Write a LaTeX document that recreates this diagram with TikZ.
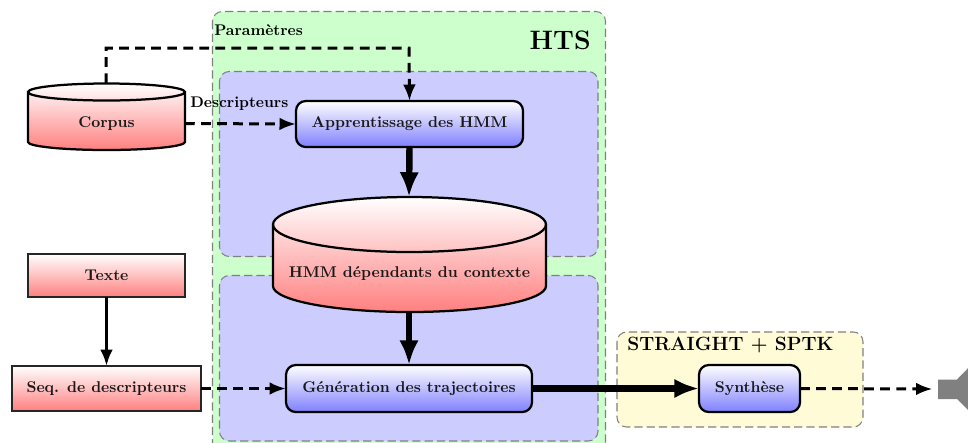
\documentclass[tikz,border=0pt]{standalone}
\usetikzlibrary{arrows.meta}
\definecolor{greenbg}{HTML}{CCFFCC}
\definecolor{bluebg}{HTML}{CCCCFF}
\definecolor{yellowbg}{HTML}{FFFBD6}
\def\ux{0.667pt}
\tikzset{
  panel/.style={draw=gray,line width=0.7pt,dash pattern=on 5.5pt off 2.7pt,rounded corners=6.5pt},
  redfill/.style={top color=white,bottom color=red!50},
  bluefill/.style={top color=white,bottom color=blue!50},
  nodetext/.style={font=\bfseries\fontsize{10.4}{12}\selectfont,text=black!90,inner sep=0pt,outer sep=0pt},
  redbox/.style={nodetext,draw=black!85,line width=1.5pt,redfill},
  bluebox/.style={nodetext,draw=black,line width=1.5pt,rounded corners=6.5pt,bluefill},
  ghost/.style={nodetext},
  cyl/.style={draw=black,line width=1.5pt},
  dashedarrow/.style={line width=2pt,dash pattern=on 6.5pt off 4.2pt,-{Latex[length=11pt,width=8.5pt]}},
  thinarrow/.style={line width=2pt,-{Latex[length=11pt,width=8.5pt]}},
  thickarrow/.style={line width=4.3pt,-{Latex[length=16.5pt,width=13pt]}},
  biglabel/.style={font=\bfseries\fontsize{12.8}{15}\selectfont,inner sep=0pt},
  hugelabel/.style={font=\bfseries\fontsize{17.8}{20}\selectfont,inner sep=0pt},
  smalllabel/.style={font=\bfseries\fontsize{10.3}{12}\selectfont,inner sep=0pt},
}
\begin{document}
\begin{tikzpicture}[x=\ux,y=-\ux]
\useasboundingbox (0,0) rectangle (968,442);
\clip (0,0) rectangle (968,442);
% panels
\path[panel,fill=greenbg] (212.5,11.5) rectangle (605.5,470);
\path[panel,fill=bluebg] (219.5,71.5) rectangle (598,256.5);
\path[panel,fill=bluebg] (219.5,275.5) rectangle (598,441);
\path[panel,fill=yellowbg] (617,332) rectangle (863,427);
% cylinders
\path[cyl,redfill] (28,92) -- (28,142) arc[start angle=180,end angle=0,x radius=78.5,y radius=8]
  -- (185,92) arc[start angle=0,end angle=-180,x radius=78.5,y radius=8.5] -- cycle;
\draw[cyl] (28,92) arc[start angle=180,end angle=0,x radius=78.5,y radius=8.5];
\path[cyl,redfill] (273,224.5) -- (273,286) arc[start angle=180,end angle=0,x radius=136.5,y radius=26]
  -- (546,224.5) arc[start angle=0,end angle=-180,x radius=136.5,y radius=27.5] -- cycle;
\draw[cyl] (273,224.5) arc[start angle=180,end angle=0,x radius=136.5,y radius=27.5];
% nodes
\node[ghost,minimum width=157*\ux,minimum height=48*\ux] (corpus) at (106.5,123.5) {Corpus};
\node[ghost,minimum width=273*\ux,minimum height=60*\ux] (hmm) at (409.5,274) {HMM dépendants du contexte};
\coordinate (corpustop) at (106,83);
\coordinate (hmmtop) at (409,197);
\coordinate (hmmbottom) at (409,312);
\node[bluebox,minimum width=227*\ux,minimum height=46*\ux] (appr) at (409.5,124) {Apprentissage des HMM};
\node[bluebox,minimum width=246*\ux,minimum height=47*\ux] (gen) at (409,388.5) {Génération des trajectoires};
\node[bluebox,minimum width=101*\ux,minimum height=47*\ux] (synth) at (749.5,388.5) {Synthèse};
\node[redbox,minimum width=157*\ux,minimum height=43*\ux] (texte) at (106.5,275.5) {Texte};
\node[redbox,minimum width=189*\ux,minimum height=45*\ux] (seq) at (106.5,388.5) {Seq. de descripteurs};
% labels
\node[hugelabel,anchor=east] (hts) at (591,40) {HTS};
\node[biglabel,anchor=west] (straight) at (627,345) {STRAIGHT + SPTK};
\node[smalllabel,anchor=west] (param) at (214,30) {Paramètres};
\node[smalllabel,anchor=west] (descr) at (190,104) {Descripteurs};
% speaker
\path[fill=gray] (938,379.5) -- (957,379.5) -- (975,361) -- (975,417) -- (957,399) -- (938,399) -- cycle;
\coordinate (speaker) at (932.5,389);
% connectors
\draw[dashedarrow] (corpustop) -- (106,48) -- (409,48) -- (appr.north);
\draw[dashedarrow] (corpus.east) -- (appr.west);
\draw[thickarrow] (appr.south) -- (hmmtop);
\draw[thickarrow] (hmmbottom) -- (gen.north);
\draw[thinarrow] (texte.south) -- (seq.north);
\draw[dashedarrow] (seq.east) -- (gen.west);
\draw[thickarrow] (gen.east) -- (synth.west);
\draw[dashedarrow] (synth.east) -- (speaker);
\end{tikzpicture}
\end{document}
